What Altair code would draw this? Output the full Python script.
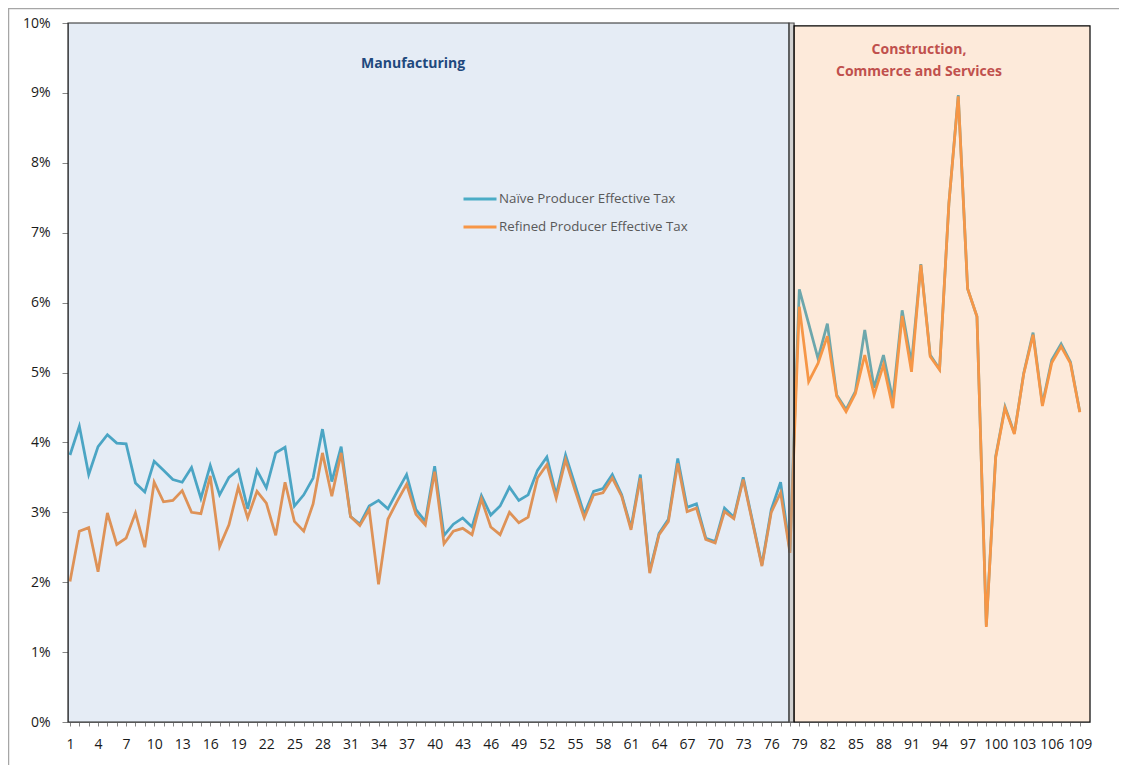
import altair as alt
import pandas as pd

# ---------------- data ----------------
categories = list(range(1, 110))
series_names = ["Naïve Producer Effective Tax", "Refined Producer Effective Tax"]

naive_pct = [
    3.82, 4.23, 3.54, 3.94, 4.11, 3.99, 3.98, 3.42, 3.29, 3.73,
    3.60, 3.47, 3.43, 3.64, 3.20, 3.67, 3.25, 3.50, 3.61, 3.05,
    3.60, 3.35, 3.85, 3.93, 3.09, 3.25, 3.49, 4.19, 3.44, 3.94,
    2.94, 2.83, 3.09, 3.17, 3.05, 3.30, 3.54, 3.04, 2.87, 3.66,
    2.67, 2.83, 2.92, 2.79, 3.24, 2.96, 3.09, 3.36, 3.17, 3.25,
    3.60, 3.79, 3.25, 3.82, 3.40, 2.97, 3.30, 3.34, 3.54, 3.25,
    2.78, 3.54, 2.16, 2.70, 2.90, 3.77, 3.07, 3.12, 2.63, 2.58,
    3.06, 2.93, 3.50, 2.87, 2.25, 3.04, 3.43, 2.44,
    6.19, 5.70, 5.20, 5.70, 4.68, 4.47, 4.73, 5.61, 4.78, 5.25,
    4.61, 5.89, 5.13, 6.55, 5.25, 5.05, 7.42, 8.97, 6.20, 5.80,
    1.38, 3.80, 4.51, 4.13, 4.99, 5.57, 4.55, 5.18, 5.41, 5.15, 4.44,
]

refined_pct = [
    2.01, 2.73, 2.78, 2.15, 2.99, 2.54, 2.63, 2.99, 2.50, 3.43,
    3.15, 3.17, 3.31, 3.00, 2.98, 3.52, 2.51, 2.82, 3.36, 2.92,
    3.30, 3.13, 2.67, 3.43, 2.87, 2.73, 3.12, 3.85, 3.23, 3.85,
    2.94, 2.81, 3.04, 1.97, 2.90, 3.16, 3.40, 2.97, 2.82, 3.58,
    2.55, 2.73, 2.77, 2.68, 3.19, 2.79, 2.68, 3.00, 2.85, 2.93,
    3.49, 3.68, 3.20, 3.75, 3.32, 2.92, 3.25, 3.28, 3.49, 3.23,
    2.75, 3.49, 2.13, 2.68, 2.87, 3.70, 3.01, 3.06, 2.61, 2.56,
    3.01, 2.91, 3.47, 2.85, 2.23, 3.00, 3.28, 2.42,
    5.94, 4.87, 5.13, 5.52, 4.66, 4.44, 4.70, 5.25, 4.68, 5.11,
    4.49, 5.81, 5.01, 6.54, 5.23, 5.04, 7.42, 8.95, 6.20, 5.80,
    1.36, 3.78, 4.49, 4.12, 4.98, 5.54, 4.52, 5.14, 5.37, 5.13, 4.43,
]

# shaded sector regions (in category units / rates)
region_names = ["Manufacturing", "Gap", "Construction, Commerce and Services"]
region_start = [0.786, 77.9, 78.44]
region_end = [77.9, 78.44, 110.09]
region_top = [0.10, 0.10, 0.0996]

# annotation texts
ann_manu_text = ["Manufacturing"]
ann_manu_x = [37.7]
ann_manu_y = [0.0941]
ann_ccs_text = ["Construction,", "Commerce and Services"]
ann_ccs_x = [91.8, 91.8]
ann_ccs_y = [0.0961, 0.0930]

y_ticks = [i / 100 for i in range(0, 11)]

# ---------------- build tables ----------------
df_naive = pd.DataFrame({"idx": categories, "rate": [v / 100 for v in naive_pct],
                         "series": series_names[0]})
df_ref = pd.DataFrame({"idx": categories, "rate": [v / 100 for v in refined_pct],
                       "series": series_names[1]})
df_regions = pd.DataFrame({"name": region_names, "x0": region_start, "x1": region_end,
                           "y0": [0.0] * 3, "y1": region_top})
df_manu = pd.DataFrame({"tx": ann_manu_x, "ty": ann_manu_y, "label": ann_manu_text})
df_ccs = pd.DataFrame({"tx": ann_ccs_x, "ty": ann_ccs_y, "label": ann_ccs_text})

W, H = 1022, 699
xscale = alt.Scale(domain=[0.786, 110.09], nice=False, zero=False)
yscale = alt.Scale(domain=[0, 0.1], nice=False)

x_axis = alt.Axis(values=categories, labelExpr="(datum.value - 1) % 3 == 0 ? datum.label : ''",
                  tickSize=4, labelPadding=11, labelOverlap=False, labelFlush=False,
                  grid=False, title=None, labelFontSize=14, labelFont="Open Sans",
                  labelColor="#1a1a1a", tickColor="#868686", domainColor="#868686")
y_axis = alt.Axis(values=y_ticks, format=".0%", tickSize=6, labelPadding=12,
                  grid=False, title=None, labelFontSize=14, labelFont="Open Sans",
                  labelColor="#1a1a1a", tickColor="#868686", domainColor="#868686")

color = alt.Color("series:N",
                  scale=alt.Scale(domain=series_names, range=["#4BACC6", "#F79646"]),
                  legend=alt.Legend(title=None, orient="none", legendX=394, legendY=158,
                                    symbolType="stroke", symbolSize=1089,
                                    symbolStrokeWidth=3, rowPadding=3, padding=0,
                                    labelFontSize=13.3, labelColor="#595959",
                                    labelOffset=1, labelLimit=0))

line_naive = alt.Chart(df_naive).mark_line(strokeWidth=2.75).encode(
    x=alt.X("idx:Q", scale=xscale, axis=x_axis),
    y=alt.Y("rate:Q", scale=yscale, axis=y_axis),
    color=color,
)
line_ref = alt.Chart(df_ref).mark_line(strokeWidth=2.75).encode(
    x=alt.X("idx:Q", scale=xscale, axis=x_axis),
    y=alt.Y("rate:Q", scale=yscale, axis=y_axis),
    color=color,
)

def region_layer(name, fill, opacity, stroke):
    return alt.Chart(df_regions).transform_filter(
        alt.datum.name == name
    ).mark_rect(fill=fill, fillOpacity=opacity, stroke=stroke, strokeWidth=1.2,
                strokeOpacity=1).encode(
        x=alt.X("x0:Q", scale=xscale, axis=x_axis),
        x2="x1:Q",
        y=alt.Y("y0:Q", scale=yscale, axis=y_axis),
        y2="y1:Q",
    )

rect_manu = region_layer(region_names[0], "#4F81BD", 0.15, "#262626")
rect_gap = region_layer(region_names[1], "#9a9a9a", 0.45, "#4d4d4d")
rect_ccs = region_layer(region_names[2], "#F79646", 0.2, "#000000")

text_manu = alt.Chart(df_manu).mark_text(fontWeight="bold", fontSize=14, color="#1F497D",
                                          font="Open Sans").encode(
    x=alt.X("tx:Q", scale=xscale, axis=x_axis),
    y=alt.Y("ty:Q", scale=yscale, axis=y_axis),
    text="label:N",
)
text_ccs = alt.Chart(df_ccs).mark_text(fontWeight="bold", fontSize=14, color="#C0504D",
                                        font="Open Sans").encode(
    x=alt.X("tx:Q", scale=xscale, axis=x_axis),
    y=alt.Y("ty:Q", scale=yscale, axis=y_axis),
    text="label:N",
)

frame = alt.Chart(pd.DataFrame({"a": [0]})).mark_rect(
    filled=False, stroke="#a6a6a6", strokeWidth=1.5).encode(
    x=alt.value(-59.5), x2=alt.value(W + 300), y=alt.value(-14.5), y2=alt.value(H + 300)
)

chart = alt.layer(
    line_naive, line_ref, rect_manu, rect_gap, rect_ccs, text_manu, text_ccs, frame
).properties(
    width=W, height=H,
    autosize=alt.AutoSizeParams(type="none"),
    padding={"left": 60, "top": 15, "right": 29, "bottom": 43},
).configure(
    font="Open Sans"
).configure_view(
    stroke=None
).configure_axis(
    domainWidth=1,
)

chart.save("out.html", embed_options={"renderer": "svg", "actions": False})
